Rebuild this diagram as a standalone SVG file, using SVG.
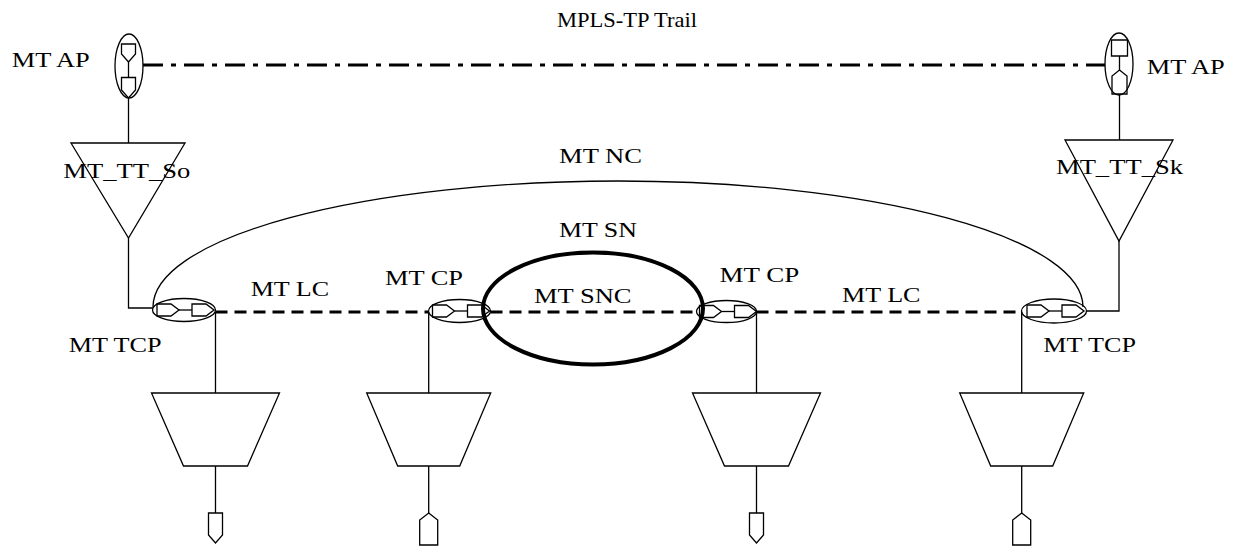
<svg xmlns="http://www.w3.org/2000/svg" width="1238" height="546" viewBox="0 0 1238 546">
<style>
.ln{fill:none;stroke:#000;stroke-width:1.3}
.sh{fill:#fff;stroke:#000;stroke-width:1.3}
.trail{fill:none;stroke:#000;stroke-width:3;stroke-dasharray:20 8 5 8}
.lc{fill:none;stroke:#000;stroke-width:3;stroke-dasharray:12 7}
.snc{fill:none;stroke:#000;stroke-width:4}
text{font-family:"Liberation Serif","Times New Roman",serif;font-size:22px;fill:#000}
</style>
<defs>
<g id="cpsym">
<path class="ln" d="M-27,-6 H-13 L-5,0 L-13,6 H-27 Z"/>
<path class="ln" d="M-5,0 H8"/>
<path class="ln" d="M8,-6 H22 L30,0 L22,6 H8 Z"/>
</g>
</defs>
<rect width="1238" height="546" fill="#fff"/>

<g id="connectors">
<path class="trail" d="M143,65 H1105"/>
<path class="ln" d="M128.5,98 V143"/>
<path class="ln" d="M1119.5,95 V140"/>
<path class="ln" d="M128.5,238 V308 H153"/>
<path class="ln" d="M1119,241 V311 H1087"/>
<path class="ln" d="M153,307 A465,126 0 0 1 1083,307"/>
<path class="lc" d="M215.5,312 H428.5"/>
<path class="lc" d="M490.5,312 H696.5"/>
<path class="lc" d="M756.5,312 H1021.5"/>
<path class="ln" d="M215.5,312 V393 M215.5,466 V513"/>
<path class="ln" d="M428.7,312 V393 M428.7,466 V513"/>
<path class="ln" d="M756.5,312 V393 M756.5,466 V513"/>
<path class="ln" d="M1021.7,312 V393 M1021.7,466 V513"/>
</g>

<g id="ap-left">
<ellipse class="ln" cx="129" cy="66" rx="14" ry="32"/>
<path class="ln" d="M121.5,44 H135.5 V54 L128.5,62 L121.5,54 Z"/>
<path class="ln" d="M128.5,62 V77.5"/>
<path class="ln" d="M121.5,77.5 H135.5 V90 L128.5,98 L121.5,90 Z"/>
</g>
<g id="ap-right">
<ellipse class="ln" cx="1119" cy="64" rx="14" ry="31"/>
<path class="ln" d="M1111.5,40 H1127.5 V56 H1111.5 Z"/>
<path class="ln" d="M1119.5,56 V70"/>
<path class="ln" d="M1119.5,70 L1127,76 V94 H1112 V76 Z"/>
</g>

<g id="tt-so">
<path class="ln" d="M71,143 H185 L128.5,238 Z"/>
</g>
<g id="tt-sk">
<path class="ln" d="M1065,140 H1173 L1119,241 Z"/>
</g>

<g id="snc">
<ellipse class="snc" cx="593" cy="308.5" rx="110" ry="56"/>
</g>

<g id="tcp-left">
<ellipse class="ln" cx="184" cy="310" rx="31.5" ry="11.5"/>
<use href="#cpsym" x="184" y="310"/>
</g>
<g id="cp-left">
<ellipse class="ln" cx="459.5" cy="311" rx="31" ry="11.5"/>
<use href="#cpsym" x="459.5" y="311"/>
</g>
<g id="cp-right">
<ellipse class="ln" cx="726.5" cy="311.5" rx="30" ry="11"/>
<use href="#cpsym" x="726.5" y="311.5"/>
</g>
<g id="tcp-right">
<ellipse class="ln" cx="1054" cy="311" rx="32.5" ry="12"/>
<use href="#cpsym" x="1054" y="311"/>
</g>

<g id="adapt-1">
<path class="ln" d="M151.5,393 H279.5 L247.5,466 H183.5 Z"/>
<path class="ln" d="M208.5,513 H222.5 V535 L215.5,543 L208.5,535 Z"/>
</g>
<g id="adapt-2">
<path class="ln" d="M366.7,393 H490.7 L459.7,466 H397.7 Z"/>
<path class="ln" d="M428.7,513 L437.7,520 V545 H419.7 V520 Z"/>
</g>
<g id="adapt-3">
<path class="ln" d="M692.5,393 H820.5 L788.5,466 H724.5 Z"/>
<path class="ln" d="M749.5,513 H763.5 V535 L756.5,543 L749.5,535 Z"/>
</g>
<g id="adapt-4">
<path class="ln" d="M959.7,393 H1083.7 L1052.7,466 H990.7 Z"/>
<path class="ln" d="M1021.7,513 L1030.7,520 V545 H1012.7 V520 Z"/>
</g>

<g id="labels">
<text x="557" y="27" textLength="140" lengthAdjust="spacingAndGlyphs">MPLS-TP Trail</text>
<text x="11.7" y="67" font-size="21" textLength="78" lengthAdjust="spacingAndGlyphs">MT AP</text>
<text x="1146.7" y="73.5" font-size="21" textLength="78" lengthAdjust="spacingAndGlyphs">MT AP</text>
<text x="63.3" y="178" font-size="25" textLength="127" lengthAdjust="spacingAndGlyphs">MT_TT_So</text>
<text x="1056" y="174" font-size="24" textLength="127" lengthAdjust="spacingAndGlyphs">MT_TT_Sk</text>
<text x="559" y="162.7" textLength="83" lengthAdjust="spacingAndGlyphs">MT NC</text>
<text x="559" y="237.3" textLength="78" lengthAdjust="spacingAndGlyphs">MT SN</text>
<text x="250.7" y="296" textLength="78.5" lengthAdjust="spacingAndGlyphs">MT LC</text>
<text x="385" y="285" textLength="78" lengthAdjust="spacingAndGlyphs">MT CP</text>
<text x="534" y="302.7" textLength="97.5" lengthAdjust="spacingAndGlyphs">MT SNC</text>
<text x="719.5" y="281.7" textLength="79.7" lengthAdjust="spacingAndGlyphs">MT CP</text>
<text x="842" y="301.7" textLength="78.5" lengthAdjust="spacingAndGlyphs">MT LC</text>
<text x="68.7" y="352" textLength="93" lengthAdjust="spacingAndGlyphs">MT TCP</text>
<text x="1043.3" y="352" textLength="92.7" lengthAdjust="spacingAndGlyphs">MT TCP</text>
</g>
</svg>
